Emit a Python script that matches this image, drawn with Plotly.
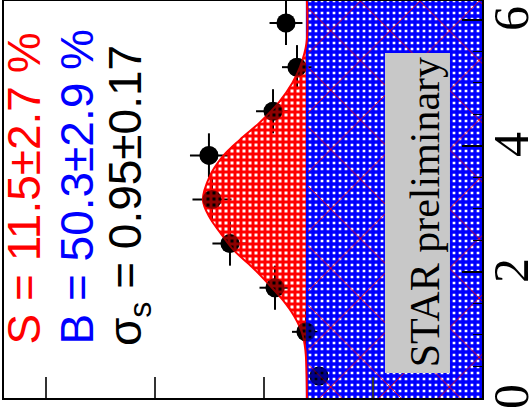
import plotly.graph_objects as go

# ---- data ----
mass_bins = [0.35, 1.05, 1.75, 2.45, 3.15, 3.85, 4.55, 5.25, 5.95]
counts = [14.95, 16.15, 18.99, 23.12, 24.77, 25.05, 19.17, 16.97, 17.98]
count_err = [1.19, 1.28, 1.42, 1.61, 1.79, 1.74, 1.56, 1.38, 1.51]
bin_half_width = [0.35] * 9

background_level = 16.06
mass_span = [0.0, 6.3]

curve_mass = [0.0, 0.4, 0.76, 1.03, 1.29, 1.56, 1.83, 2.08, 2.35, 2.62, 2.87,
              3.14, 3.51, 3.83, 4.10, 4.37, 4.70, 5.00, 5.25, 5.63, 6.3]
curve_val = [16.06, 16.1, 16.2, 16.5, 17.2, 18.3, 19.7, 21.1, 22.8, 24.0, 25.0,
             25.6, 25.0, 23.8, 22.2, 20.4, 18.6, 17.4, 16.7, 16.1, 16.06]

mass_ticks = [0, 2, 4, 6]
mass_tick_labels = ["0", "2", "4", "6"]
count_ticks = [10, 20, 30, 40]

label_S = "S = 11.5±2.7 %"
label_B = "B = 50.3±2.9 %"
label_sigma = "σ<sub>s</sub> = 0.95±0.17"
label_star = "STAR preliminary"

fig = go.Figure()

fig.add_trace(go.Scatter(
    x=counts, y=mass_bins, mode="markers",
    marker=dict(color="black", size=19),
    error_x=dict(type="data", array=count_err, color="black", thickness=2, width=0),
    error_y=dict(type="data", array=bin_half_width, color="black", thickness=2, width=0),
    showlegend=False, hoverinfo="skip",
))
fig.add_trace(go.Scatter(
    x=[background_level, background_level], y=mass_span, mode="lines",
    line=dict(color="#0000ff", width=2),
    fill="tozerox", fillcolor="rgba(0,0,0,0)",
    fillpattern=dict(shape="+", bgcolor="rgba(0,0,0,0)", fgcolor="#0000ff", fgopacity=1,
                     fillmode="replace", size=6, solidity=0.8),
    showlegend=False, hoverinfo="skip",
))
fig.add_trace(go.Scatter(
    x=[background_level, background_level], y=mass_span, mode="lines",
    line=dict(color="#0000ff", width=2),
    fill="tozerox", fillcolor="rgba(0,0,0,0)",
    fillpattern=dict(shape="x", bgcolor="rgba(0,0,0,0)", fgcolor="#ff0000", fgopacity=1,
                     size=42, solidity=0.04),
    showlegend=False, hoverinfo="skip",
))
fig.add_trace(go.Scatter(
    x=curve_val, y=curve_mass, mode="lines",
    line=dict(color="#ff0000", width=2, shape="spline"),
    fill="tonextx", fillcolor="rgba(0,0,0,0)",
    fillpattern=dict(shape="+", bgcolor="rgba(0,0,0,0)", fgcolor="#ff0000", fgopacity=1,
                     fillmode="replace", size=6, solidity=0.75),
    showlegend=False, hoverinfo="skip",
))
# points seen through the hatched fills
fig.add_trace(go.Scatter(
    x=counts, y=mass_bins, mode="markers",
    marker=dict(color="rgba(0,0,0,0.45)", size=19),
    showlegend=False, hoverinfo="skip",
))

fig.add_shape(type="rect", xref="paper", yref="paper",
              x0=0.797, x1=0.933, y0=0.063, y1=0.869,
              fillcolor="#c8c8c8", line=dict(width=0), layer="above")

sans = "Liberation Sans, Arial, sans-serif"
fig.add_annotation(xref="paper", yref="paper", x=0.042, y=0.13, xanchor="center", yanchor="bottom",
                   text=label_S, textangle=-90, showarrow=False,
                   font=dict(family=sans, size=46, color="#ff0000"))
fig.add_annotation(xref="paper", yref="paper", x=0.153, y=0.13, xanchor="center", yanchor="bottom",
                   text=label_B, textangle=-90, showarrow=False,
                   font=dict(family=sans, size=46, color="#0000ff"))
fig.add_annotation(xref="paper", yref="paper", x=0.262, y=0.125, xanchor="center", yanchor="bottom",
                   text=label_sigma, textangle=-90, showarrow=False,
                   font=dict(family=sans, size=46, color="black"))
fig.add_annotation(xref="paper", yref="paper", x=0.881, y=0.468, xanchor="center", yanchor="middle",
                   text=label_star, textangle=-90, showarrow=False,
                   font=dict(family="Liberation Serif, Times New Roman, serif", size=42, color="black"))

fig.update_layout(
    width=532, height=408,
    margin=dict(l=4, r=50, t=1, b=10),
    paper_bgcolor="white", plot_bgcolor="white",
    hovermode=False,
    xaxis=dict(range=[43.85, 0], showgrid=False, zeroline=False, automargin=False,
               showline=True, linecolor="black", linewidth=2, mirror=True,
               ticks="inside", ticklen=21, tickwidth=2, tickcolor="#333",
               tickvals=count_ticks, showticklabels=False),
    yaxis=dict(range=[0, 6.3], side="right", showgrid=False, zeroline=False, automargin=False,
               showline=True, linecolor="black", linewidth=2, mirror=True,
               ticks="inside", ticklen=20, tickwidth=1.5, tickcolor="black",
               tickvals=mass_ticks, ticktext=mass_tick_labels, tickangle=-90,
               ticklabelshift=6, ticklabelstandoff=-16, ticklabeloverflow="allow",
               tickfont=dict(family="Liberation Serif, Times New Roman, serif", size=50, color="black"),
               minor=dict(dtick=0.5, ticks="inside", ticklen=9, tickcolor="black", tickwidth=1)),
)

fig.write_html("out.html", config={"displayModeBar": False},
               post_script="document.body.style.margin='0';document.body.style.padding='0';")
